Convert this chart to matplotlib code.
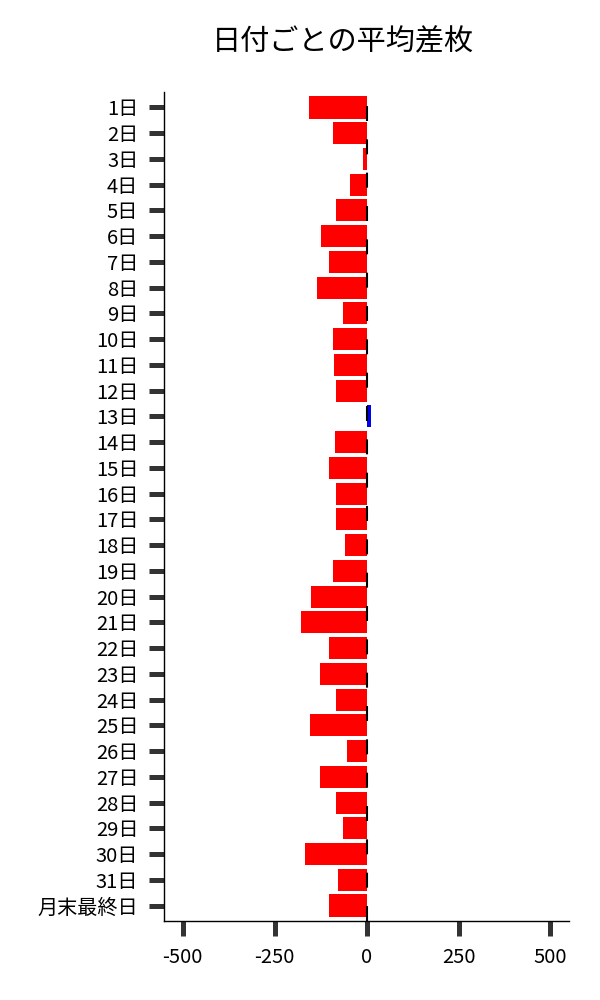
import matplotlib
matplotlib.use("Agg")
import matplotlib.pyplot as plt

plt.rcParams['font.family'] = ['Noto Sans CJK JP', 'DejaVu Sans']

categories = [f"{d}日" for d in range(1, 32)] + ["月末最終日"]
values = [-157, -92, -11, -46, -84, -125, -103, -136, -65, -92, -90, -84, 11,
          -87, -103, -82, -82, -60, -92, -152, -179, -103, -128,
          -82, -155, -52, -128, -84, -65, -168, -79, -101]
xticks = [-500, -250, 0, 250, 500]
xticklabels = ["-500", "-250", "0", "250", "500"]
title = "日付ごとの平均差枚"

fig = plt.figure(figsize=(6, 10), dpi=100)
ax = fig.add_axes([0.274, 0.079, 0.948 - 0.274, 0.908 - 0.079])

colors = ['#FF0000' if v < 0 else '#0000EE' for v in values]
ypos = list(range(len(categories)))
ax.barh(ypos, values, height=0.86, color=colors, zorder=2)

lw = 1.5
ax.axvline(0, color='black', linewidth=lw, linestyle=(0, (10.8 / lw, 13.2 / lw)), zorder=3)

ax.set_ylim(len(categories) - 1 + 0.6, -0.6)
ax.set_xlim(-550, 550)
ax.set_yticks(ypos)
ax.set_yticklabels(categories, fontsize=14.5)
ax.set_xticks(xticks)
ax.set_xticklabels(xticklabels, fontsize=14.5)

ax.tick_params(axis='both', length=10.8, width=3.6, color='#333333', labelcolor='black')
ax.tick_params(axis='y', pad=8)
ax.tick_params(axis='x', pad=8)

for s in ['top', 'right']:
    ax.spines[s].set_visible(False)
for s in ['left', 'bottom']:
    ax.spines[s].set_color('black')
    ax.spines[s].set_linewidth(1.0)

fig.text(0.572, 0.958, title, ha='center', va='center', fontsize=21, color='black')

fig.savefig("out.png", dpi=100)
